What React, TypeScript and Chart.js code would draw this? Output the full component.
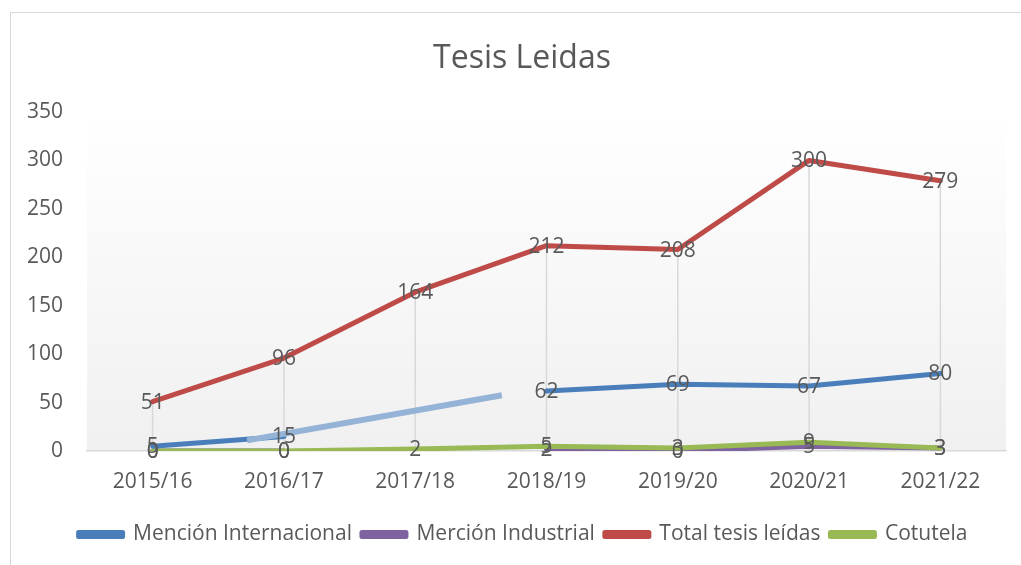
import React, { useEffect, useRef } from "react";
import { Chart, registerables } from "chart.js";

Chart.register(...registerables);

const categories = ["2015/16", "2016/17", "2017/18", "2018/19", "2019/20", "2020/21", "2021/22"];
const mencionInternacional = [5, 15, null, 62, 69, 67, 80];
const mercionIndustrial = [0, 0, null, 2, 0, 5, 3];
const totalTesis = [51, 96, 164, 212, 208, 300, 279];
const cotutela = [0, 0, 2, 5, 3, 9, 3];
// light-blue highlighted segment seen in the picture (category index, value)
const highlightX = [0.72, 2.66];
const highlightY = [11, 57.5];
const yTicks = [0, 50, 100, 150, 200, 250, 300, 350];

const TEXT = "#595959";
const FONT = "'Open Sans', 'Noto Sans', sans-serif";

const framePlugin = {
  id: "frame",
  afterLayout(chart: any) {
    if (chart.legend) {
      chart.legend.left += 10;
      chart.legend.right += 10;
    }
    if (chart.titleBlock) {
      chart.titleBlock.left += 9;
      chart.titleBlock.right += 9;
    }
  },
  beforeDraw(chart: any) {
    const { ctx, chartArea } = chart;
    ctx.save();
    ctx.fillStyle = "#ffffff";
    ctx.fillRect(0, 0, chart.width, chart.height);
    ctx.strokeStyle = "#d9d9d9";
    ctx.lineWidth = 1;
    ctx.strokeRect(10.5, 12.5, chart.width + 50, chart.height + 50);
    const g = ctx.createLinearGradient(0, chartArea.top, 0, chartArea.bottom);
    g.addColorStop(0, "#ffffff");
    g.addColorStop(1, "#f0f0f0");
    ctx.fillStyle = g;
    ctx.fillRect(chartArea.left, chartArea.top, chartArea.right - chartArea.left, chartArea.bottom - chartArea.top);
    ctx.restore();
  },
  beforeDatasetsDraw(chart: any) {
    const { ctx, scales } = chart;
    const x = scales.x;
    const y = scales.y;
    ctx.save();
    ctx.strokeStyle = "#d9d9d9";
    ctx.lineWidth = 1.5;
    categories.forEach((_, i) => {
      const vals = [mencionInternacional[i], mercionIndustrial[i], totalTesis[i], cotutela[i]].filter(
        (v) => v !== null && v !== undefined
      ) as number[];
      if (!vals.length) return;
      const top = y.getPixelForValue(Math.max(...vals));
      const px = x.getPixelForValue(i);
      ctx.beginPath();
      ctx.moveTo(px, top);
      ctx.lineTo(px, y.getPixelForValue(0));
      ctx.stroke();
    });
    ctx.restore();
  },
  afterDatasetsDraw(chart: any) {
    const { ctx } = chart;
    ctx.save();
    ctx.font = `21px ${FONT}`;
    ctx.fillStyle = TEXT;
    ctx.textAlign = "center";
    ctx.textBaseline = "middle";
    chart.data.datasets.forEach((ds: any, di: number) => {
      if (ds.noLabels) return;
      const meta = chart.getDatasetMeta(di);
      meta.data.forEach((pt: any, i: number) => {
        const v = ds.data[i];
        if (v === null || v === undefined) return;
        ctx.fillText(String(v), pt.x, pt.y + 1);
      });
    });
    ctx.restore();
  },
};

export default function App() {
  const ref = useRef<HTMLCanvasElement>(null);
  useEffect(() => {
    if (!ref.current) return;
    const chart = new Chart(ref.current, {
      type: "line",
      data: {
        labels: categories,
        datasets: [
          {
            label: "Mención Internacional",
            data: mencionInternacional,
            borderColor: "#4a7ebb",
            backgroundColor: "#4a7ebb",
            borderWidth: 5,
            order: 1,
          },
          {
            label: "Merción Industrial",
            data: mercionIndustrial,
            borderColor: "#7f63a1",
            backgroundColor: "#7f63a1",
            borderWidth: 5,
            order: 4,
          },
          {
            label: "Total tesis leídas",
            data: totalTesis,
            borderColor: "#be4b48",
            backgroundColor: "#be4b48",
            borderWidth: 5,
            order: 3,
          },
          {
            label: "Cotutela",
            data: cotutela,
            borderColor: "#98b954",
            backgroundColor: "#98b954",
            borderWidth: 5,
            order: 2,
          },
          {
            label: "highlight",
            data: highlightX.map((x, i) => ({ x, y: highlightY[i] })) as any,
            xAxisID: "x2",
            borderColor: "#95b3d7",
            backgroundColor: "#95b3d7",
            borderWidth: 6,
            borderCapStyle: "butt",
            order: 0,
            noLabels: true,
          } as any,
        ],
      },
      options: {
        animation: false,
        responsive: false,
        events: [],
        elements: {
          point: { radius: 0, hoverRadius: 0 },
          line: { tension: 0, borderJoinStyle: "round", borderCapStyle: "round" },
        },
        spanGaps: false,
        layout: { padding: { left: 20, right: 15, top: 0, bottom: 10 } },
        scales: {
          x: {
            type: "category",
            offset: true,
            grid: { display: false, drawTicks: false },
            border: { display: true, color: "#d9d9d9", width: 1.5 },
            ticks: { color: TEXT, font: { family: FONT, size: 21 }, padding: 18, maxRotation: 0 },
            afterFit: (s: any) => {
              s.height = 63;
            },
          },
          x2: {
            type: "linear",
            display: false,
            min: -0.5,
            max: categories.length - 0.5,
          },
          y: {
            min: 0,
            max: 350,
            afterBuildTicks: (s: any) => {
              s.ticks = yTicks.map((v) => ({ value: v }));
            },
            grid: { display: false, drawTicks: false },
            border: { display: false },
            ticks: { color: TEXT, font: { family: FONT, size: 21 }, padding: 24 },
            afterFit: (s: any) => {
              s.width = 67;
            },
          },
        },
        plugins: {
          title: {
            display: true,
            text: "Tesis Leidas",
            color: TEXT,
            font: { family: FONT, size: 32, weight: "normal" },
            padding: { top: 40, bottom: 33.6 },
          },
          legend: {
            position: "bottom",
            labels: {
              color: TEXT,
              font: { family: FONT, size: 21 },
              boxWidth: 44,
              boxHeight: 4,
              padding: 10,
              filter: (item: any) => item.text !== "highlight",
              sort: (a: any, b: any) => a.datasetIndex - b.datasetIndex,
            },
          },
          tooltip: { enabled: false },
        },
      } as any,
      plugins: [framePlugin],
    });
    return () => chart.destroy();
  }, []);
  return (
    <div style={{ position: "fixed", left: 0, top: 0, width: 1021, height: 565, background: "#fff" }}>
      <canvas ref={ref} width={1021} height={565} style={{ display: "block" }} />
    </div>
  );
}
